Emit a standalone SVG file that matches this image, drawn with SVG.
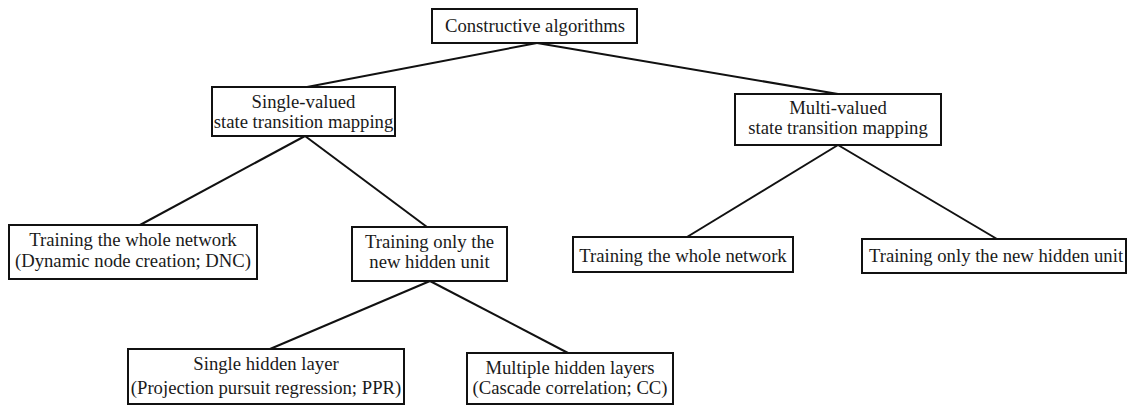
<svg xmlns="http://www.w3.org/2000/svg" width="1127" height="407" viewBox="0 0 1127 407">
  <style>
    .box { fill: #ffffff; stroke: #111111; stroke-width: 2; }
    .lbl { font-family: "Liberation Serif", "Times New Roman", serif; font-size: 18.7px; fill: #1a1a1a; text-anchor: middle; }
    .edge { stroke: #111111; stroke-width: 2; fill: none; }
  </style>
  <rect width="1127" height="407" fill="#ffffff"/>

  <!-- tree connectors -->
  <g id="connectors">
    <line class="edge" x1="537" y1="43" x2="307" y2="87"/>
    <line class="edge" x1="537" y1="43" x2="838" y2="94"/>
    <line class="edge" x1="305" y1="136" x2="140" y2="225"/>
    <line class="edge" x1="305" y1="136" x2="427" y2="227"/>
    <line class="edge" x1="430" y1="281" x2="270" y2="349"/>
    <line class="edge" x1="430" y1="281" x2="568" y2="353"/>
    <line class="edge" x1="838" y1="145" x2="687" y2="237"/>
    <line class="edge" x1="838" y1="145" x2="997" y2="239"/>
  </g>

  <g id="root">
    <rect class="box" x="432" y="9" width="205" height="34"/>
    <text class="lbl" x="535" y="32">Constructive algorithms</text>
  </g>

  <g id="single-valued">
    <rect class="box" x="212" y="87" width="183" height="49"/>
    <text class="lbl" x="303.5" y="108">Single-valued</text>
    <text class="lbl" x="303.5" y="128">state transition mapping</text>
  </g>

  <g id="multi-valued">
    <rect class="box" x="735" y="94" width="206" height="51"/>
    <text class="lbl" x="838" y="114">Multi-valued</text>
    <text class="lbl" x="838" y="134">state transition mapping</text>
  </g>

  <g id="sv-whole-network">
    <rect class="box" x="9" y="225" width="248" height="54"/>
    <text class="lbl" x="133" y="246">Training the whole network</text>
    <text class="lbl" x="133" y="267">(Dynamic node creation; DNC)</text>
  </g>

  <g id="sv-new-hidden-unit">
    <rect class="box" x="352" y="227" width="155" height="54"/>
    <text class="lbl" x="429.5" y="248">Training only the</text>
    <text class="lbl" x="429.5" y="268">new hidden unit</text>
  </g>

  <g id="mv-whole-network">
    <rect class="box" x="573" y="237" width="220" height="35"/>
    <text class="lbl" x="683" y="262">Training the whole network</text>
  </g>

  <g id="mv-new-hidden-unit">
    <rect class="box" x="862" y="239" width="264" height="34"/>
    <text class="lbl" x="996" y="262">Training only the new hidden unit</text>
  </g>

  <g id="single-hidden-layer">
    <rect class="box" x="128" y="349" width="276" height="55"/>
    <text class="lbl" x="266" y="370">Single hidden layer</text>
    <text class="lbl" x="266" y="394">(Projection pursuit regression; PPR)</text>
  </g>

  <g id="multiple-hidden-layers">
    <rect class="box" x="467" y="353" width="206" height="51"/>
    <text class="lbl" x="570" y="374">Multiple hidden layers</text>
    <text class="lbl" x="570" y="394">(Cascade correlation; CC)</text>
  </g>
</svg>
